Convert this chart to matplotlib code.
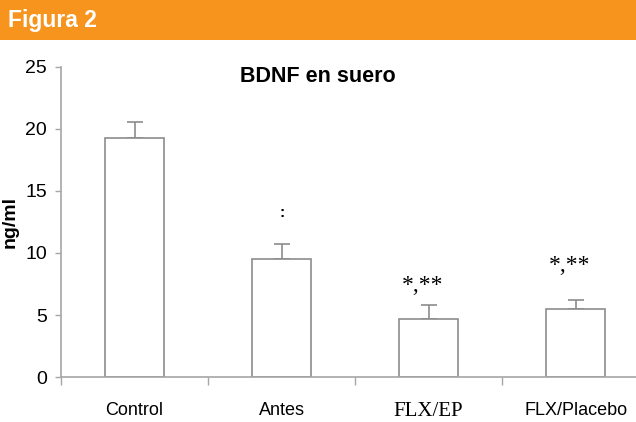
import numpy as np
import matplotlib.pyplot as plt
from matplotlib.patches import Rectangle

plt.rcParams['font.family'] = ['Liberation Sans', 'DejaVu Sans']

# data
groups = ['Control', 'Antes', 'FLX/EP', 'FLX/Placebo']
means = [19.25, 9.5, 4.7, 5.5]
errs = [1.3, 1.25, 1.1, 0.7]
marks = ['', ':', '*,**', '*,**']
mark_y = [None, 13.2, 7.4, 9.0]
yticks = [0, 5, 10, 15, 20, 25]

grey = '#8c8c8c'
axgrey = '#a6a6a6'
orange = '#F7941D'
serif = ['Liberation Serif', 'DejaVu Serif']

fig = plt.figure(figsize=(6.36, 4.22), dpi=100)
fig.patch.set_facecolor('white')

# banner
fig.patches.append(Rectangle((0, 1 - 40/422), 1, 40/422, transform=fig.transFigure,
                             facecolor=orange, edgecolor='none', zorder=0))
fig.text(8/636, 1 - 21/422, 'Figura 2', color='white', fontsize=16.5, fontweight='bold',
         va='center', ha='left')

ax = fig.add_axes([61/636, 1 - 377/422, 1 - 61/636, (377 - 67)/422])
x = np.arange(len(groups))
ax.bar(x, means, width=0.4, color='white', edgecolor=grey, linewidth=1.2, zorder=2)
ax.errorbar(x, means, yerr=[np.zeros(len(errs)), errs], fmt='none', ecolor=grey,
            elinewidth=1.2, capsize=6, capthick=1.2, zorder=1)

for xi, t, yy in zip(x, marks, mark_y):
    if not t:
        continue
    if t == ':':
        ax.text(xi, yy, t, ha='center', va='center', fontsize=11, fontweight='bold')
    else:
        ax.text(xi - 0.04, yy, t, ha='center', va='center', fontsize=17, family=serif)

ax.set_xlim(-0.5, 3.41)
ax.set_ylim(0, 25)
ax.set_yticks(yticks)
ax.set_xticks(x)
ax.set_xticklabels(groups)
ax.tick_params(axis='x', which='major', length=0, pad=18, labelsize=13)
lab = ax.get_xticklabels()[2]
lab.set_family(serif)
lab.set_fontsize(15)
ax.set_xticks(np.arange(len(groups)) - 0.5, minor=True)
ax.tick_params(axis='x', which='minor', length=6, color=axgrey, width=1)
ax.tick_params(axis='y', length=4, color=axgrey, width=1, pad=6, labelsize=14)

for s in ['top', 'right']:
    ax.spines[s].set_visible(False)
for s in ['left', 'bottom']:
    ax.spines[s].set_color(axgrey)
    ax.spines[s].set_linewidth(1.2)

fig.text(318/636, 1 - 76/422, 'BDNF en suero', fontsize=15.5, fontweight='bold',
         ha='center', va='center')
fig.text(10/636, 1 - 222/422, 'ng/ml', rotation=90, fontsize=14, fontweight='bold',
         ha='center', va='center')

fig.savefig('out.png', dpi=100)
